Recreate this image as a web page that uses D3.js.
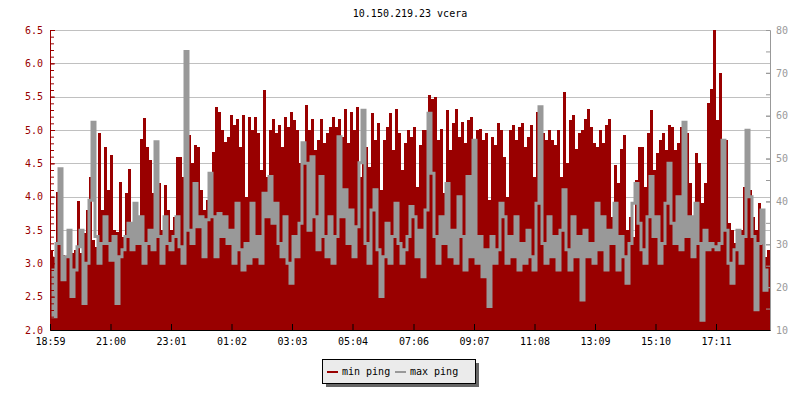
<!DOCTYPE html>
<html>
<head>
<meta charset="utf-8">
<script src="https://cdn.jsdelivr.net/npm/d3@7"></script>
<style>
  body { margin: 0; background: #fff; }
  text { font-family: "DejaVu Sans Mono", monospace; font-size: 10px; }
</style>
</head>
<body>
<div id="chart"></div>
<script>
// min ping (left axis, ms), one value per 6 minutes starting 18:59
var minPing = [
  3.2, 3.1, 4.07, 3.8, 3.12, 3.1, 3.37, 3.15, 3.2, 3.94, 3.15, 3.45, 3.8, 4.3, 3.35, 3.25, 4.95, 3.8, 4.75, 4.1,
  4.62, 3.5, 3.47, 4.22, 3.4, 4.05, 4.42, 3.25, 3.65, 3.6, 4.87, 5.18, 4.75, 4.55, 4.05, 3.7, 4.2, 3.5, 4.17, 3.8,
  3.5, 3.7, 4.6, 4.6, 4.3, 4.05, 4.92, 4.5, 4.77, 4.75, 4.1, 3.8, 3.95, 4.2, 4.67, 5.35, 5.27, 5.0, 4.82, 4.9,
  5.22, 5.07, 5.17, 4.75, 5.22, 4.0, 5.2, 5.0, 5.2, 4.95, 4.4, 5.6, 4.3, 5.0, 5.17, 4.95, 5.07, 4.75, 5.2, 5.05,
  5.27, 5.15, 5.0, 4.5, 4.75, 5.37, 5.0, 5.17, 4.7, 4.85, 5.17, 4.8, 4.95, 5.05, 5.2, 5.05, 5.17, 4.9, 5.32, 4.8,
  5.27, 5.0, 5.35, 4.3, 5.25, 4.75, 4.45, 5.25, 4.85, 5.1, 4.1, 4.85, 5.05, 5.25, 4.7, 5.32, 4.95, 4.4, 4.8, 5.0,
  4.9, 5.05, 4.15, 4.77, 5.0, 5.0, 5.52, 5.47, 5.5, 4.85, 5.02, 4.05, 5.3, 4.7, 5.1, 5.32, 4.9, 5.12, 4.8, 5.15,
  5.2, 3.4, 5.0, 5.02, 4.85, 4.95, 3.95, 4.9, 4.77, 5.1, 5.0, 4.6, 4.0, 5.0, 5.07, 4.85, 5.05, 5.1, 4.75, 4.9,
  5.07, 4.3, 5.27, 5.0, 4.95, 4.85, 5.0, 4.85, 4.77, 5.0, 4.3, 5.57, 4.5, 5.15, 5.22, 4.72, 4.95, 5.0, 5.17, 5.32,
  5.05, 4.8, 4.75, 5.0, 4.8, 5.07, 5.17, 3.7, 4.47, 4.2, 4.72, 4.92, 3.5, 3.7, 3.4, 4.25, 4.75, 4.75, 4.15, 4.95,
  5.3, 4.4, 4.65, 4.85, 4.95, 4.7, 5.07, 5.05, 4.7, 4.8, 5.05, 4.45, 4.95, 4.2, 3.7, 4.65, 4.5, 3.9, 4.2, 5.4,
  5.62, 6.5, 5.15, 5.85, 4.35, 4.85, 3.6, 3.5, 3.3, 3.25, 3.5, 4.15, 4.3, 4.1, 3.7, 3.5, 3.9, 3.3, 3.1, 3.2
];

// max ping (right axis, ms)
var maxPing = [
  24.0, 13.1, 30.2, 47.6, 21.7, 27.1, 33.3, 17.8, 24.0, 29.4, 33.3, 16.2, 25.6, 40.3, 58.5, 31.8, 25.6, 30.2, 36.4, 30.2,
  26.3, 31.8, 16.2, 27.1, 28.7, 31.8, 34.9, 28.7, 39.6, 30.2, 36.4, 25.6, 30.2, 33.3, 28.7, 53.9, 31.8, 25.6, 36.4, 30.2,
  28.7, 31.8, 36.4, 29.4, 25.6, 75.0, 33.3, 30.2, 44.2, 34.1, 36.4, 27.1, 35.7, 46.6, 36.4, 27.1, 37.2, 31.8, 36.4, 30.2,
  33.3, 25.6, 39.6, 28.7, 24.0, 30.2, 25.6, 39.6, 27.1, 31.8, 25.6, 41.9, 36.4, 45.8, 34.9, 39.6, 30.2, 27.1, 36.4, 25.6,
  20.9, 31.8, 27.1, 34.9, 53.7, 48.9, 33.3, 50.4, 36.4, 28.7, 45.8, 31.8, 27.1, 36.4, 25.6, 31.8, 55.1, 36.4, 42.7, 30.2,
  38.0, 27.1, 34.1, 49.0, 61.3, 30.2, 25.6, 38.0, 42.7, 28.7, 17.8, 27.1, 34.9, 25.6, 31.8, 39.6, 30.2, 25.6, 28.7, 31.8,
  38.8, 36.4, 27.1, 33.3, 22.4, 38.0, 60.6, 46.6, 31.8, 25.6, 36.4, 30.2, 44.2, 27.1, 33.3, 25.6, 41.1, 31.8, 24.0, 45.8,
  27.1, 54.3, 25.6, 31.8, 22.4, 28.7, 15.5, 31.8, 25.6, 28.7, 39.6, 36.4, 25.6, 31.8, 27.1, 36.4, 24.0, 30.2, 25.6, 33.3,
  27.1, 24.0, 39.6, 62.1, 30.2, 25.6, 36.4, 27.1, 31.8, 24.0, 33.3, 42.7, 28.7, 24.0, 36.4, 27.1, 31.8, 17.0, 33.3, 27.1,
  30.2, 25.6, 39.6, 28.7, 36.4, 24.0, 33.3, 30.2, 39.6, 24.0, 31.8, 27.1, 20.9, 30.2, 39.6, 44.2, 34.9, 28.7, 25.6, 36.4,
  45.8, 31.8, 36.4, 25.6, 30.2, 39.6, 48.9, 34.9, 30.2, 41.1, 28.7, 58.5, 31.8, 36.4, 27.1, 39.6, 30.2, 12.3, 33.3, 28.7,
  30.2, 29.4, 28.7, 30.2, 54.3, 33.3, 25.6, 20.9, 28.7, 33.3, 25.6, 31.8, 56.6, 41.1, 31.8, 14.7, 30.2, 38.0, 19.3, 24.0
];

var timeLabels = ["18:59", "21:00", "23:01", "01:02", "03:03", "05:04", "07:06", "09:07", "11:08", "13:09", "15:10", "17:11"];

var startTime = new Date(2021, 0, 1, 18, 59);
var stepMinutes = 6;
var endTime = d3.timeMinute.offset(startTime, minPing.length * stepMinutes);

var svgWidth = 800;
var svgHeight = 400;
var margin = { top: 30, right: 30, bottom: 70, left: 50 };
var plotRight = svgWidth - margin.right;
var plotBottom = svgHeight - margin.bottom;

var svg = d3.select("#chart")
  .append("svg")
  .attr("width", svgWidth)
  .attr("height", svgHeight);

// scales
var x = d3.scaleTime()
  .domain([startTime, endTime])
  .range([margin.left, plotRight]);

var yLeft = d3.scaleLinear()
  .domain([2, 6.5])
  .range([plotBottom, margin.top]);

var yRight = d3.scaleLinear()
  .domain([10, 80])
  .range([plotBottom, margin.top]);

var minData = minPing.map(function(v, i) {
  return { t: d3.timeMinute.offset(startTime, i * stepMinutes), v: v };
});
var maxData = maxPing.map(function(v, i) {
  return { t: d3.timeMinute.offset(startTime, i * stepMinutes), v: v };
});

// grid
svg.append("g")
  .selectAll("line")
  .data(d3.range(2.5, 6.51, 0.5))
  .enter()
  .append("line")
  .attr("x1", margin.left)
  .attr("x2", plotRight)
  .attr("y1", d => Math.round(yLeft(d)) + 0.5)
  .attr("y2", d => Math.round(yLeft(d)) + 0.5)
  .attr("stroke", "#c0c0c0")
  .attr("stroke-width", 1);

// min ping bars
svg.append("g")
  .selectAll("rect")
  .data(minData)
  .enter()
  .append("rect")
  .attr("x", d => x(d.t))
  .attr("width", d => x(d3.timeMinute.offset(d.t, stepMinutes)) - x(d.t))
  .attr("y", d => yLeft(d.v))
  .attr("height", d => plotBottom - yLeft(d.v))
  .attr("fill", "#990000")
  .attr("shape-rendering", "crispEdges");

// max ping line (stepped, drawn over the bars)
var half = (x(d3.timeMinute.offset(startTime, stepMinutes)) - x(startTime)) / 2;
var maxLine = d3.line()
  .x(d => x(d.t) + half)
  .y(d => yRight(d.v))
  .curve(d3.curveStep);

svg.append("path")
  .datum(maxData)
  .attr("d", maxLine)
  .attr("fill", "none")
  .attr("stroke", "#999999")
  .attr("stroke-width", 3)
  .attr("stroke-linejoin", "miter");

// left axis (red)
var leftMinor = svg.append("g")
  .attr("transform", `translate(${margin.left},0)`)
  .call(d3.axisLeft(yLeft).tickValues(d3.range(2, 6.501, 0.1)).tickSize(-4).tickSizeOuter(0).tickFormat(""));
var leftAxis = svg.append("g")
  .attr("transform", `translate(${margin.left},0)`)
  .call(d3.axisLeft(yLeft).tickValues(d3.range(2, 6.51, 0.5)).tickSize(-5).tickSizeOuter(0)
    .tickPadding(7).tickFormat(d3.format(".1f")));
[leftMinor, leftAxis].forEach(function(g) {
  g.selectAll("path, line").attr("stroke", "#990000");
  g.selectAll("text").attr("fill", "#990000").style("font-size", "10px")
    .style("font-family", '"DejaVu Sans Mono", monospace');
});

// right axis (gray)
var rightMinor = svg.append("g")
  .attr("transform", `translate(${plotRight},0)`)
  .call(d3.axisRight(yRight).tickValues(d3.range(10, 80.1, 5)).tickSize(-4).tickSizeOuter(0).tickFormat(""));
var rightAxis = svg.append("g")
  .attr("transform", `translate(${plotRight},0)`)
  .call(d3.axisRight(yRight).tickValues(d3.range(10, 80.1, 10)).tickSize(-4).tickSizeOuter(0).tickPadding(6));
[rightMinor, rightAxis].forEach(function(g) {
  g.selectAll("path, line").attr("stroke", "#999999");
  g.selectAll("text").attr("fill", "#999999").style("font-size", "10px")
    .style("font-family", '"DejaVu Sans Mono", monospace');
});

// bottom axis
var tickDates = timeLabels.map(function(s) {
  var p = s.split(":");
  var d = new Date(startTime);
  d.setHours(+p[0], +p[1]);
  if (d < startTime) d = d3.timeDay.offset(d, 1);
  return d;
});
var bottomAxis = svg.append("g")
  .attr("transform", `translate(0,${plotBottom})`)
  .call(d3.axisBottom(x).tickValues(tickDates).tickSize(-6).tickSizeOuter(0).tickPadding(8)
    .tickFormat((d, i) => timeLabels[i]));
bottomAxis.selectAll("path, line").attr("stroke", "#000");
bottomAxis.selectAll("text").attr("fill", "#000").style("font-size", "10px")
  .style("font-family", '"DejaVu Sans Mono", monospace');

// title
svg.append("text")
  .attr("x", (margin.left + plotRight) / 2)
  .attr("y", 17)
  .attr("text-anchor", "middle")
  .attr("fill", "#000")
  .text("10.150.219.23 vcera");

// legend
var legend = svg.append("g").attr("transform", "translate(322,359)");
legend.append("rect")
  .attr("x", 4).attr("y", 4).attr("width", 153).attr("height", 24)
  .attr("fill", "#666");
legend.append("rect")
  .attr("x", 0.5).attr("y", 0.5).attr("width", 153).attr("height", 24)
  .attr("fill", "#ebebeb").attr("stroke", "#000");
var items = [
  { label: "min ping", color: "#990000", x: 5 },
  { label: "max ping", color: "#999999", x: 73 }
];
items.forEach(function(it) {
  legend.append("line")
    .attr("x1", it.x).attr("x2", it.x + 11)
    .attr("y1", 13).attr("y2", 13)
    .attr("stroke", it.color).attr("stroke-width", 2);
  legend.append("text")
    .attr("x", it.x + 15).attr("y", 16)
    .attr("fill", "#000")
    .text(it.label);
});
</script>
</body>
</html>
